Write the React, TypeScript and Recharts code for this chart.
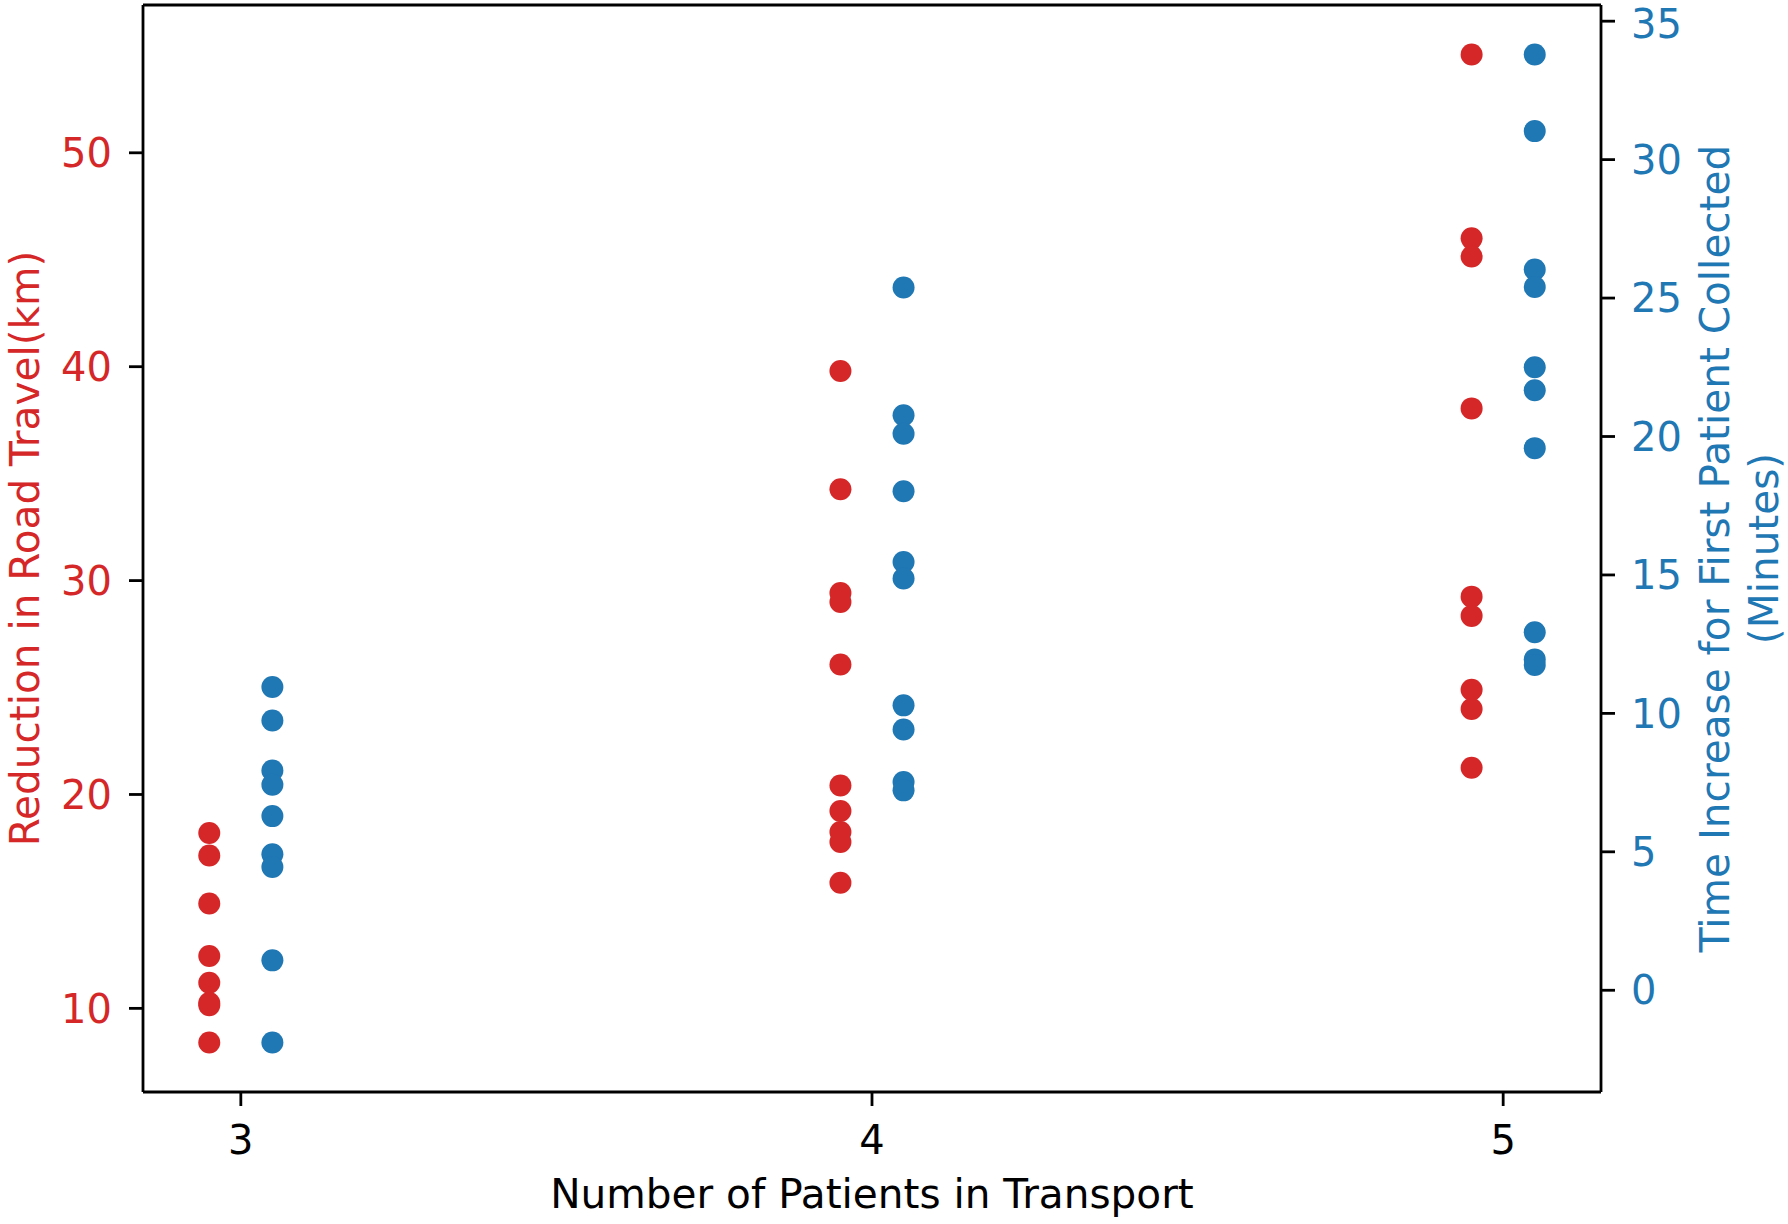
import React from 'react';
import { ScatterChart, Scatter, XAxis, YAxis, ReferenceLine } from 'recharts';

// ---- data ----
const categories = [3, 4, 5];

const roadReduction3 = [18.2, 17.15, 14.9, 12.45, 11.2, 10.25, 10.15, 8.4];
const roadReduction4 = [39.8, 34.27, 29.42, 29.0, 26.08, 20.42, 19.23, 18.25, 17.78, 15.87];
const roadReduction5 = [54.6, 46.0, 45.15, 38.05, 29.25, 28.35, 24.9, 24.0, 21.25];

const timeIncrease3 = [10.95, 9.74, 7.94, 7.42, 6.29, 4.91, 4.45, 1.08, -1.89];
const timeIncrease4 = [25.38, 20.77, 20.1, 18.02, 15.47, 14.87, 10.29, 9.42, 7.52, 7.22];
const timeIncrease5 = [33.8, 31.03, 26.03, 25.4, 22.5, 21.67, 19.58, 12.93, 11.95, 11.75];

const xTicks = [3, 4, 5];
const leftTicks = [10, 20, 30, 40, 50];
const rightTicks = [0, 5, 10, 15, 20, 25, 30, 35];

const xLabel = 'Number of Patients in Transport';
const leftLabel = 'Reduction in Road Travel(km)';
const rightLabelLine1 = 'Time Increase for First Patient Collected';
const rightLabelLine2 = '(Minutes)';

// ---- styling ----
const RED = '#d62728';
const BLUE = '#1f77b4';
const FONT = 'DejaVu Sans';
const FS = 40;
const LFS = 40.6;
const LW = 2.8;
const OFFSET = 0.05;

const roadGroups = [roadReduction3, roadReduction4, roadReduction5];
const timeGroups = [timeIncrease3, timeIncrease4, timeIncrease5];

const redData = categories.flatMap((c, i) => roadGroups[i].map((v) => ({ x: c - OFFSET, y: v })));
const blueData = categories.flatMap((c, i) => timeGroups[i].map((v) => ({ x: c + OFFSET, y: v })));

const padDomain = (vals: number[]): [number, number] => {
  const mn = Math.min(...vals);
  const mx = Math.max(...vals);
  const m = (mx - mn) * 0.05;
  return [mn - m, mx + m];
};

const xDomain = padDomain([...redData.map((d) => d.x), ...blueData.map((d) => d.x)]);
const leftDomain = padDomain(redData.map((d) => d.y));
const rightDomain = padDomain(blueData.map((d) => d.y));

const RedDot = (p: any) => <circle cx={p.cx} cy={p.cy} r={11} fill={RED} />;
const BlueDot = (p: any) => <circle cx={p.cx} cy={p.cy} r={11} fill={BLUE} />;

const LeftLabel = (props: any) => {
  const vb = props.viewBox || {};
  const x = vb.x + 39;
  const y = vb.y + vb.height / 2;
  return (
    <text x={x} y={y} transform={`rotate(-90, ${x}, ${y})`} textAnchor="middle" fill={RED} fontSize={LFS} fontFamily={FONT}>
      {leftLabel}
    </text>
  );
};

const RightLabel = (props: any) => {
  const vb = props.viewBox || {};
  const y = vb.y + vb.height / 2;
  const x1 = vb.x + 128;
  const x2 = vb.x + 177;
  return (
    <g>
      <text x={x1} y={y} transform={`rotate(-90, ${x1}, ${y})`} textAnchor="middle" fill={BLUE} fontSize={LFS} fontFamily={FONT}>
        {rightLabelLine1}
      </text>
      <text x={x2} y={y} transform={`rotate(-90, ${x2}, ${y})`} textAnchor="middle" fill={BLUE} fontSize={LFS} fontFamily={FONT}>
        {rightLabelLine2}
      </text>
    </g>
  );
};

const BottomLabel = (props: any) => {
  const vb = props.viewBox || {};
  const x = vb.x + vb.width / 2;
  const y = vb.y + 116;
  return (
    <text x={x} y={y} textAnchor="middle" fill="#000" fontSize={LFS} fontFamily={FONT}>
      {xLabel}
    </text>
  );
};

export default function App() {
  return (
    <div style={{ position: 'absolute', left: 0, top: 0, background: '#fff', fontFamily: FONT }}>
      <ScatterChart width={1788} height={1224} margin={{ top: 5, right: 0, bottom: 0, left: 0 }}>
        <XAxis
          type="number"
          dataKey="x"
          domain={xDomain}
          ticks={xTicks}
          allowDataOverflow
          height={132}
          axisLine={{ stroke: '#000', strokeWidth: LW }}
          tickLine={{ stroke: '#000', strokeWidth: LW }}
          tickSize={14}
          tickMargin={20}
          tick={{ fill: '#000', fontSize: FS, fontFamily: FONT }}
          label={BottomLabel}
        />
        <YAxis
          yAxisId="left"
          type="number"
          dataKey="y"
          orientation="left"
          domain={leftDomain}
          ticks={leftTicks}
          allowDataOverflow
          width={143}
          axisLine={{ stroke: '#000', strokeWidth: LW }}
          tickLine={{ stroke: '#000', strokeWidth: LW }}
          tickSize={14}
          tickMargin={17}
          tick={{ fill: RED, fontSize: FS, fontFamily: FONT }}
          label={LeftLabel}
        />
        <YAxis
          yAxisId="right"
          type="number"
          dataKey="y"
          orientation="right"
          domain={rightDomain}
          ticks={rightTicks}
          allowDataOverflow
          width={187}
          axisLine={{ stroke: '#000', strokeWidth: LW }}
          tickLine={{ stroke: '#000', strokeWidth: LW }}
          tickSize={14}
          tickMargin={16}
          tick={{ fill: BLUE, fontSize: FS, fontFamily: FONT }}
          label={RightLabel}
        />
        <ReferenceLine yAxisId="left" y={leftDomain[1]} stroke="#000" strokeWidth={LW} />
        <Scatter yAxisId="left" data={redData} shape={RedDot} isAnimationActive={false} />
        <Scatter yAxisId="right" data={blueData} shape={BlueDot} isAnimationActive={false} />
      </ScatterChart>
    </div>
  );
}
